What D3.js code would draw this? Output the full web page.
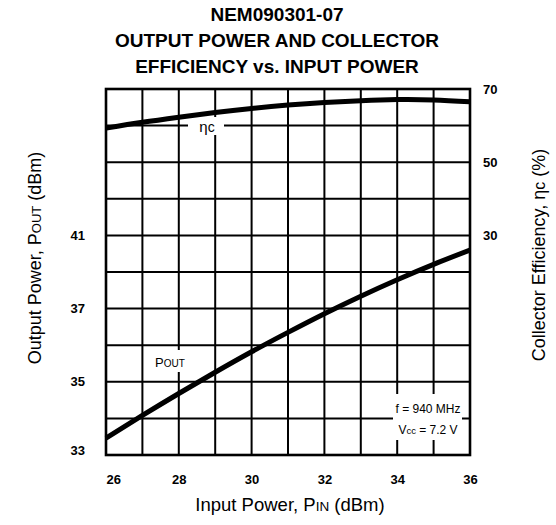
<!DOCTYPE html>
<html><head><meta charset="utf-8">
<script src="https://cdn.jsdelivr.net/npm/d3@7"></script>
<style>
html,body{margin:0;padding:0;background:#fff;}
svg{display:block;font-family:"Liberation Sans",Arial,Helvetica,sans-serif;}
</style></head>
<body>
<svg id="c" width="556" height="525"></svg>
<script>
// ---- data ----
const inputPower = [26, 27, 28, 29, 30, 31, 32, 33, 34, 35, 36];
const outputPower = [33.46, 34.08, 34.68, 35.26, 35.82, 36.35, 36.86, 37.34, 37.79, 38.21, 38.60];
const efficiency = [59.3, 60.9, 62.3, 63.6, 64.7, 65.6, 66.3, 66.8, 67.1, 67.0, 66.5];
const xTickValues = [26, 28, 30, 32, 34, 36];
const xTickLabels = ["26", "28", "30", "32", "34", "36"];
const leftTickValues = [33, 35, 37, 39];
const leftTickLabels = ["33", "35", "37", "41"];
const rightTickValues = [30, 50, 70];
const rightTickLabels = ["30", "50", "70"];
const titleLines = ["NEM090301-07", "OUTPUT POWER AND COLLECTOR", "EFFICIENCY vs. INPUT POWER"];

// ---- layout ----
const L = 106, R = 470, T = 89, B = 455;
const svg = d3.select("#c");
const x = d3.scaleLinear().domain([26, 36]).range([L, R]);
const yP = d3.scaleLinear().domain([33, 43]).range([B, T]);
const yE = d3.scaleLinear().domain([-30, 70]).range([B, T]);

// title
svg.append("g").selectAll("text").data(titleLines).join("text")
  .attr("x", 277).attr("y", (d, i) => 21 + i * 26)
  .attr("text-anchor", "middle").attr("font-weight", "bold").attr("font-size", 19)
  .text(d => d);

// grid
const grid = svg.append("g").attr("stroke", "#000").attr("stroke-width", 2);
grid.selectAll("line.v").data(d3.range(27, 36)).join("line").attr("class", "v")
  .attr("x1", d => x(d)).attr("x2", d => x(d)).attr("y1", T).attr("y2", B);
grid.selectAll("line.h").data(d3.range(34, 43)).join("line").attr("class", "h")
  .attr("y1", d => yP(d)).attr("y2", d => yP(d)).attr("x1", L).attr("x2", R);

// white label boxes covering grid
svg.append("rect").attr("x", 188).attr("y", 117).attr("width", 36).attr("height", 18).attr("fill", "#fff");
svg.append("rect").attr("x", 150).attr("y", 350).attr("width", 40).attr("height", 22).attr("fill", "#fff");
svg.append("rect").attr("x", 393).attr("y", 394).attr("width", 69).attr("height", 46).attr("fill", "#fff");

// frame
svg.append("rect").attr("x", L).attr("y", T).attr("width", R - L).attr("height", B - T)
  .attr("fill", "none").attr("stroke", "#000").attr("stroke-width", 2.6);

// curves
const lineP = d3.line().x((d, i) => x(inputPower[i])).y(d => yP(d)).curve(d3.curveNatural);
const lineE = d3.line().x((d, i) => x(inputPower[i])).y(d => yE(d)).curve(d3.curveNatural);
svg.append("path").attr("d", lineP(outputPower)).attr("fill", "none").attr("stroke", "#000").attr("stroke-width", 5);
svg.append("path").attr("d", lineE(efficiency)).attr("fill", "none").attr("stroke", "#000").attr("stroke-width", 5);

// curve labels
const etaT = svg.append("text").attr("x", 207).attr("y", 132).attr("text-anchor", "middle").attr("font-size", 15);
etaT.append("tspan").text("η");
etaT.append("tspan").attr("font-size", 14).text("c");
const poutT = svg.append("text").attr("x", 170).attr("y", 367).attr("text-anchor", "middle").attr("font-size", 13);
poutT.append("tspan").text("P");
poutT.append("tspan").attr("font-size", 10).text("OUT");

// annotation
svg.append("text").attr("x", 428).attr("y", 413).attr("text-anchor", "middle").attr("font-size", 12).text("f = 940 MHz");
const vT = svg.append("text").attr("x", 428).attr("y", 434).attr("text-anchor", "middle").attr("font-size", 12);
vT.append("tspan").text("V");
vT.append("tspan").attr("font-size", 9.5).text("cc");
vT.append("tspan").text(" = 7.2 V");

// axes (labels only)
const xAxis = d3.axisBottom(x).tickValues(xTickValues).tickSize(0).tickPadding(0)
  .tickFormat((d, i) => xTickLabels[i]);
const gx = svg.append("g").attr("transform", `translate(0,${B + 20})`).call(xAxis);
gx.select(".domain").remove();
gx.selectAll("text").attr("font-size", 13).attr("font-weight", "bold").attr("fill", "#000")
  .attr("font-family", "Liberation Sans, Arial, sans-serif")
  .attr("text-anchor", (d, i) => i === 0 ? "start" : "middle");

const lAxis = d3.axisLeft(yP).tickValues(leftTickValues).tickSize(0).tickPadding(0)
  .tickFormat((d, i) => leftTickLabels[i]);
const gl = svg.append("g").attr("transform", `translate(${L - 21},0)`).call(lAxis);
gl.select(".domain").remove();
gl.selectAll("text").attr("font-size", 13).attr("font-weight", "bold").attr("fill", "#000")
  .attr("font-family", "Liberation Sans, Arial, sans-serif");
gl.selectAll(".tick").filter(d => d === 33).select("text").attr("dy", "-0.05em");

const rAxis = d3.axisRight(yE).tickValues(rightTickValues).tickSize(0).tickPadding(0)
  .tickFormat((d, i) => rightTickLabels[i]);
const gr = svg.append("g").attr("transform", `translate(${R + 13},0)`).call(rAxis);
gr.select(".domain").remove();
gr.selectAll("text").attr("font-size", 13).attr("font-weight", "bold").attr("fill", "#000")
  .attr("font-family", "Liberation Sans, Arial, sans-serif");

// axis titles
const xt = svg.append("text").attr("x", 290).attr("y", 511).attr("text-anchor", "middle").attr("font-size", 18.5);
xt.append("tspan").text("Input Power, P");
xt.append("tspan").attr("font-size", 13.5).text("IN");
xt.append("tspan").text(" (dBm)");

const lt = svg.append("text").attr("transform", "translate(41,258) rotate(-90)").attr("text-anchor", "middle").attr("font-size", 18);
lt.append("tspan").text("Output Power, P");
lt.append("tspan").attr("font-size", 13).text("OUT");
lt.append("tspan").text(" (dBm)");

const rt = svg.append("text").attr("transform", "translate(545,255) rotate(-90)").attr("text-anchor", "middle").attr("font-size", 18);
rt.append("tspan").text("Collector Efficiency, η");
rt.append("tspan").attr("font-size", 16).text("c");
rt.append("tspan").text(" (%)");
</script>
</body></html>
